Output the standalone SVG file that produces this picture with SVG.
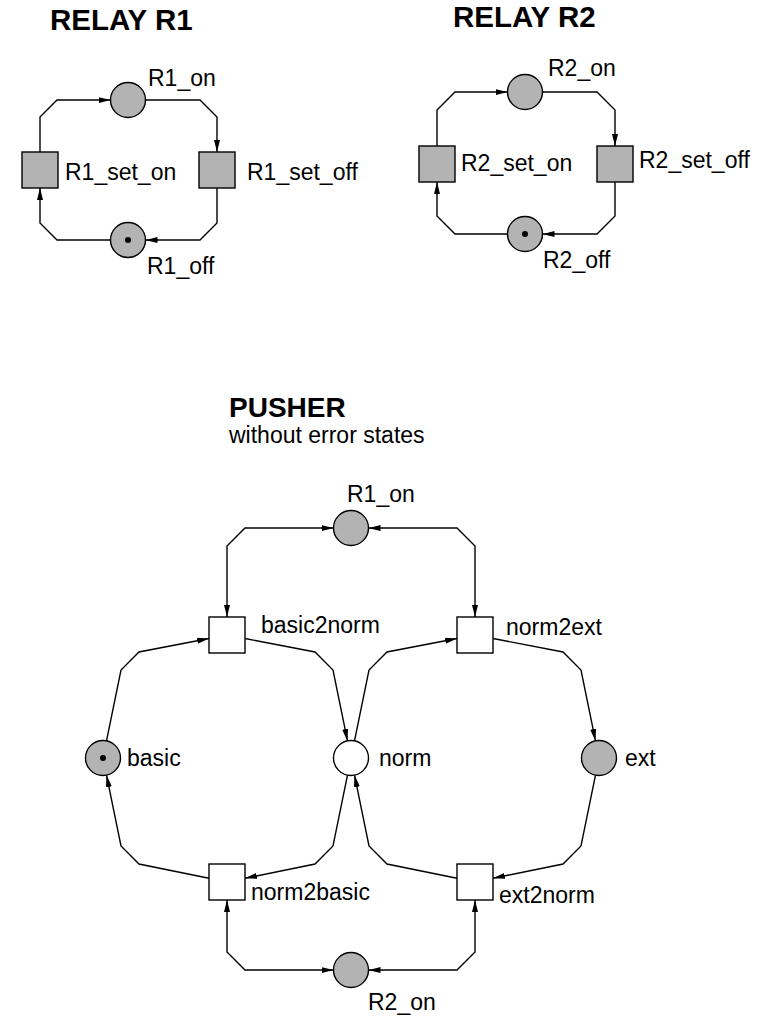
<svg xmlns="http://www.w3.org/2000/svg" width="769" height="1016" viewBox="0 0 769 1016">
<style>
text{font-family:"Liberation Sans",Arial,Helvetica,sans-serif;font-size:23px;fill:#000}
.title{font-weight:bold;font-size:28px}
.rt{font-size:29.5px}
.place{fill:#b3b3b3;stroke:#000;stroke-width:1.4}
.pw{fill:#fff;stroke:#000;stroke-width:1.4}
.trg{fill:#b3b3b3;stroke:#000;stroke-width:1.4}
.trw{fill:#fff;stroke:#000;stroke-width:1.4}
.arc{fill:none;stroke:#000;stroke-width:1.4;stroke-linejoin:miter;marker-end:url(#ah)}
.bi{marker-start:url(#ah)}
.tok{fill:#000}
</style>
<defs>
<marker id="ah" markerWidth="12" markerHeight="6" refX="12" refY="3" orient="auto-start-reverse" markerUnits="userSpaceOnUse"><path d="M0,0 L12,3 L0,6 z" fill="#000"/></marker>
</defs>
<rect width="769" height="1016" fill="#fff"/>

<text class="title rt" x="50" y="30">RELAY R1</text>
<text class="title rt" x="453" y="27">RELAY R2</text>
<text class="title" x="229" y="417">PUSHER</text>
<text x="229" y="443">without error states</text>

<g id="connectors">
<!-- relay R1 -->
<path class="arc" d="M40,152 V117 L57,100 H110.5"/>
<path class="arc" d="M145.5,100 H200 L217,117 V152"/>
<path class="arc" d="M217,188 V223 L200,240 H145.5"/>
<path class="arc" d="M110.5,240 H57 L40,223 V188"/>
<!-- relay R2 -->
<path class="arc" d="M437,146 V110 L455,92 H507.5"/>
<path class="arc" d="M542.5,92 H597 L615,110 V146"/>
<path class="arc" d="M615,182 V216 L597,234 H542.5"/>
<path class="arc" d="M507.5,234 H455 L437,216 V182"/>
<!-- pusher -->
<path class="arc" d="M106.5,740.9 L121,670 L139,652 L209,638.5"/>
<path class="arc" d="M245,638.5 L315,652 L333,670 L347.5,740.9"/>
<path class="arc" d="M354.5,740.9 L369,670 L387,652 L457,638.5"/>
<path class="arc" d="M493,638.5 L563,652 L581,670 L595.5,740.9"/>
<path class="arc" d="M595.5,775.1 L581,846 L563,864 L493,878.3"/>
<path class="arc" d="M457,878.3 L387,864 L369,846 L354.5,775.1"/>
<path class="arc" d="M347.5,775.1 L333,846 L315,864 L245,878.3"/>
<path class="arc" d="M209,878.3 L139,864 L121,846 L106.5,775.1"/>
<path class="arc bi" d="M227,617 V546 L245,528 H333.5"/>
<path class="arc bi" d="M475,617 V546 L457,528 H368.5"/>
<path class="arc bi" d="M227,900 V952 L245,970 H333.5"/>
<path class="arc bi" d="M475,900 V952 L457,970 H368.5"/>
</g>

<g id="r1_on"><circle class="place" cx="128" cy="100" r="17.5"/><text x="148" y="86">R1_on</text></g>
<g id="r1_set_on"><rect class="trg" x="22" y="152" width="36" height="36"/><text x="65" y="180">R1_set_on</text></g>
<g id="r1_set_off"><rect class="trg" x="199" y="152" width="36" height="36"/><text x="247" y="180">R1_set_off</text></g>
<g id="r1_off"><circle class="place" cx="128" cy="240" r="17.5"/><circle class="tok" cx="128" cy="240" r="3"/><text x="147" y="274">R1_off</text></g>

<g id="r2_on"><circle class="place" cx="525" cy="92" r="17.5"/><text x="548" y="76">R2_on</text></g>
<g id="r2_set_on"><rect class="trg" x="419" y="146" width="36" height="36"/><text x="461" y="171">R2_set_on</text></g>
<g id="r2_set_off"><rect class="trg" x="597" y="146" width="36" height="36"/><text x="639" y="168">R2_set_off</text></g>
<g id="r2_off"><circle class="place" cx="525" cy="234" r="17.5"/><circle class="tok" cx="525" cy="234" r="3"/><text x="543" y="268">R2_off</text></g>

<g id="p_r1_on"><circle class="place" cx="351" cy="528" r="17.5"/><text x="347" y="502">R1_on</text></g>
<g id="basic2norm"><rect class="trw" x="209" y="617" width="36" height="36"/><text x="261" y="633">basic2norm</text></g>
<g id="norm2ext"><rect class="trw" x="457" y="617" width="36" height="36"/><text x="506" y="635">norm2ext</text></g>
<g id="basic"><circle class="place" cx="103" cy="758" r="17.5"/><circle class="tok" cx="103" cy="758" r="3"/><text x="127" y="766">basic</text></g>
<g id="norm"><circle class="pw" cx="351" cy="758" r="17.5"/><text x="379" y="766">norm</text></g>
<g id="ext"><circle class="place" cx="599" cy="758" r="17.5"/><text x="625" y="766">ext</text></g>
<g id="norm2basic"><rect class="trw" x="209" y="864" width="36" height="36"/><text x="251" y="900">norm2basic</text></g>
<g id="ext2norm"><rect class="trw" x="457" y="864" width="36" height="36"/><text x="499" y="903">ext2norm</text></g>
<g id="p_r2_on"><circle class="place" cx="351" cy="970" r="17.5"/><text x="368" y="1010">R2_on</text></g>
</svg>
